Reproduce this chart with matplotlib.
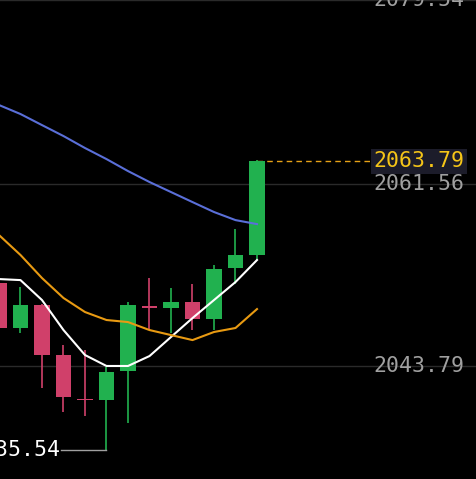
import matplotlib.pyplot as plt

# candle OHLC
opens  = [2051.89, 2047.49, 2049.74, 2044.86, 2040.56, 2040.47, 2043.30, 2049.65, 2049.45, 2050.04, 2048.38, 2053.36, 2054.63]
closes = [2047.49, 2049.74, 2044.86, 2040.76, 2040.46, 2043.20, 2049.74, 2049.45, 2050.04, 2048.38, 2053.26, 2054.63, 2063.79]
highs  = [2052.00, 2051.50, 2049.80, 2045.84, 2045.35, 2043.69, 2050.04, 2052.38, 2051.40, 2051.79, 2053.65, 2057.17, 2063.90]
lows   = [2047.00, 2047.01, 2041.64, 2039.29, 2038.90, 2035.54, 2038.22, 2047.30, 2047.01, 2047.30, 2047.30, 2051.79, 2054.14]

ma_blue   = [2069.28, 2068.40, 2067.32, 2066.25, 2065.08, 2064.00, 2062.83, 2061.76, 2060.78, 2059.80, 2058.83, 2058.04, 2057.65]
ma_white  = [2052.28, 2052.18, 2050.23, 2047.30, 2044.86, 2043.79, 2043.79, 2044.76, 2046.62, 2048.47, 2050.23, 2051.99, 2054.14]
ma_orange = [2056.58, 2054.63, 2052.38, 2050.43, 2049.06, 2048.28, 2048.08, 2047.30, 2046.81, 2046.32, 2047.11, 2047.50, 2049.35]

grid_levels = [2079.54, 2061.56, 2043.79]
last_price = 2063.79
low_price = 2035.54
low_idx = 5

green, red = '#21b14f', '#d0406a'
mono = 'DejaVu Sans Mono'

fig = plt.figure(figsize=(4.77, 4.79), dpi=100, facecolor='black')
ax = fig.add_axes([0, 0, 1, 1], facecolor='black')
x0 = 1 / 21.5
ax.set_xlim(x0, 477 / 21.5 + x0)
ax.set_ylim(2032.75, 2079.54)
ax.axis('off')

for lv in grid_levels:
    ax.axhline(lv, color='#2a2a2a', lw=1, zorder=0)

for i, (o, c, h, l) in enumerate(zip(opens, closes, highs, lows)):
    col = green if c >= o else red
    ax.vlines(i, l, h, color=col, lw=1.2, zorder=2)
    body = max(abs(c - o), 0.15)
    ax.bar(i, body, bottom=min(o, c), width=0.74, color=col, zorder=3)

xs = range(len(ma_blue))
ax.plot(xs, ma_blue, color='#5a6fd8', lw=1.5, zorder=4)
ax.plot(xs, ma_white, color='white', lw=1.5, zorder=4)
ax.plot(xs, ma_orange, color='#e89a12', lw=1.5, zorder=4)

# last price line and label
ax.plot([12, 17.4], [last_price, last_price], color='#e8a317', lw=1, ls=(0, (4, 3)))
xl = 17.4
for lv in grid_levels:
    ax.text(xl, lv, f'{lv:.2f}', color='#a0a0a0', fontsize=15.5, va='center', ha='left',
            fontfamily=mono)
ax.text(xl, last_price, f'{last_price:.2f}', color='#f5c518', fontsize=15.5, va='center', ha='left',
        fontfamily=mono,
        bbox=dict(boxstyle='square,pad=0.12', fc='#1c1c2a', ec='none'))

# low marker
ax.plot([2.9, low_idx], [low_price, low_price], color='#a0a0a0', lw=1)
ax.text(2.85, low_price, f'{low_price:.2f}', color='white', fontsize=15.5, va='center', ha='right',
        fontfamily=mono)

fig.savefig('out.png', dpi=100, facecolor='black')
